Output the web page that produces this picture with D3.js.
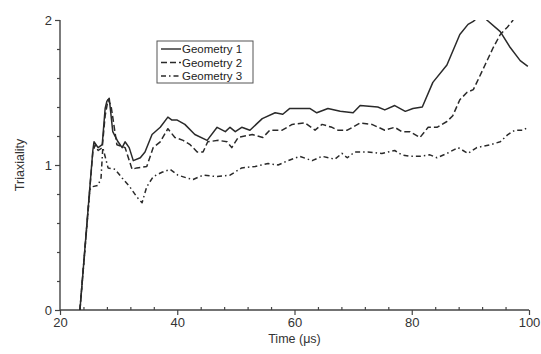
<!DOCTYPE html>
<html>
<head>
<meta charset="utf-8">
<script src="https://cdn.jsdelivr.net/npm/d3@7"></script>
<style>
  body { margin: 0; background: #fff; }
  svg { font-family: "Liberation Sans", Arial, sans-serif; }
</style>
</head>
<body>
<svg id="chart" width="541" height="354"></svg>
<script>
// values
const time1 = [23.4, 25.6, 25.8, 26.5, 27.2, 27.7, 28.0, 28.4, 29.0, 29.9, 30.6, 31.1, 31.8, 32.5, 33.7, 34.5, 35.7, 37.1, 38.4, 39.1, 40.0, 41.3, 43.0, 45.1, 46.8, 48.2, 49.0, 49.9, 51.0, 52.4, 54.5, 56.7, 58.0, 59.2, 60.9, 62.6, 63.8, 65.7, 67.8, 70.0, 71.2, 74.2, 75.4, 77.1, 78.9, 80.2, 81.8, 83.6, 86.0, 88.2, 89.6, 90.5, 91.8, 92.8, 95.1, 96.8, 98.5, 99.8];
const geo1 = [0, 1.10, 1.16, 1.12, 1.14, 1.39, 1.44, 1.46, 1.23, 1.16, 1.12, 1.16, 1.12, 1.03, 1.05, 1.09, 1.21, 1.26, 1.33, 1.31, 1.31, 1.28, 1.21, 1.17, 1.26, 1.23, 1.26, 1.23, 1.26, 1.24, 1.32, 1.36, 1.35, 1.39, 1.39, 1.39, 1.36, 1.39, 1.37, 1.36, 1.41, 1.40, 1.38, 1.41, 1.37, 1.39, 1.40, 1.57, 1.69, 1.90, 1.97, 1.99, 2.04, 2.0, 1.92, 1.81, 1.72, 1.68];

const time2 = [23.4, 25.6, 26.0, 26.5, 27.2, 27.7, 28.2, 28.7, 29.7, 31.1, 32.3, 33.1, 34.8, 35.9, 37.1, 38.4, 39.6, 41.0, 42.2, 43.4, 44.4, 45.2, 47.0, 48.5, 49.3, 50.4, 52.8, 54.6, 55.8, 57.9, 59.6, 61.8, 63.5, 64.7, 66.4, 67.4, 69.0, 71.2, 73.2, 75.4, 77.1, 78.3, 79.7, 81.4, 82.8, 84.3, 86.0, 87.0, 88.2, 89.4, 90.5, 91.1, 92.5, 93.9, 95.1, 96.3, 97.3];
const geo2 = [0, 1.09, 1.14, 1.10, 1.12, 1.34, 1.45, 1.41, 1.14, 1.12, 0.97, 0.98, 0.99, 1.12, 1.16, 1.25, 1.19, 1.17, 1.14, 1.09, 1.09, 1.16, 1.17, 1.16, 1.12, 1.19, 1.21, 1.19, 1.24, 1.24, 1.28, 1.29, 1.24, 1.28, 1.26, 1.24, 1.24, 1.29, 1.28, 1.24, 1.26, 1.23, 1.23, 1.19, 1.26, 1.26, 1.30, 1.34, 1.45, 1.50, 1.52, 1.57, 1.69, 1.81, 1.90, 1.95, 2.0];

const time3 = [23.4, 25.1, 25.5, 26.5, 27.0, 27.3, 28.2, 29.4, 30.6, 31.9, 33.1, 34.0, 34.8, 35.9, 37.4, 38.8, 40.1, 41.7, 42.7, 44.4, 46.8, 49.0, 51.0, 53.3, 55.5, 57.2, 58.9, 60.9, 63.0, 64.7, 66.9, 68.1, 69.0, 70.3, 72.5, 74.9, 77.1, 78.3, 79.7, 81.4, 83.1, 84.3, 86.0, 87.9, 89.6, 91.1, 93.4, 95.1, 96.4, 97.6, 99.0, 99.8];
const geo3 = [0, 0.83, 0.85, 0.86, 0.91, 1.12, 0.98, 0.97, 0.91, 0.85, 0.78, 0.74, 0.85, 0.92, 0.95, 0.97, 0.93, 0.91, 0.90, 0.93, 0.92, 0.93, 0.98, 0.99, 1.01, 1.00, 1.03, 1.06, 1.03, 1.06, 1.04, 1.08, 1.05, 1.09, 1.09, 1.08, 1.10, 1.07, 1.06, 1.06, 1.07, 1.05, 1.08, 1.12, 1.08, 1.12, 1.14, 1.16, 1.21, 1.24, 1.24, 1.26];

const seriesNames = ["Geometry 1", "Geometry 2", "Geometry 3"];
const xTicks = [20, 40, 60, 80, 100];
const yTicks = [0, 1, 2];

const series = [
  { name: seriesNames[0], t: time1, v: geo1, dash: null },
  { name: seriesNames[1], t: time2, v: geo2, dash: "6,3" },
  { name: seriesNames[2], t: time3, v: geo3, dash: "5,3,1.5,3" }
];

const svg = d3.select("#chart");
const margin = { top: 20, right: 12, bottom: 44, left: 60 };
const width = 541 - margin.left - margin.right;
const height = 354 - margin.top - margin.bottom;

const x = d3.scaleLinear().domain([20, 100]).range([0, width]);
const y = d3.scaleLinear().domain([0, 2]).range([height, 0]);

const g = svg.append("g").attr("transform", `translate(${margin.left},${margin.top})`);

svg.append("defs").append("clipPath").attr("id", "clip")
  .append("rect").attr("x", 0).attr("y", 0).attr("width", width).attr("height", height);

const axisColor = "#444";

// x axis: majors outside, minors inside
const gx = g.append("g").attr("transform", `translate(0,${height})`)
  .call(d3.axisBottom(x).tickValues(xTicks).tickSize(5).tickPadding(3).tickFormat(d3.format("d")));
g.append("g").attr("transform", `translate(0,${height})`)
  .call(d3.axisTop(x).tickValues(d3.range(20, 101, 4).filter(d => d % 20 !== 0)).tickSize(3).tickFormat(""))
  .call(a => a.select(".domain").remove());

const gy = g.append("g")
  .call(d3.axisLeft(y).tickValues(yTicks).tickSize(5).tickPadding(3).tickFormat(d3.format("d")));
g.append("g")
  .call(d3.axisLeft(y).tickValues(d3.range(0, 2.01, 0.2).filter(d => Math.abs(d - Math.round(d)) > 0.01)).tickSize(3).tickFormat(""))
  .call(a => a.select(".domain").remove());

g.selectAll(".domain").attr("stroke", axisColor).attr("stroke-width", 1.4);
g.selectAll(".tick line").attr("stroke", axisColor).attr("stroke-width", 1.2);
g.selectAll(".tick text").attr("fill", "#333").attr("font-size", "13px");
gx.select(".domain").attr("d", `M0,0H${width}`);
gy.select(".domain").attr("d", `M0,${height}V0`);

// axis titles
svg.append("text")
  .attr("x", margin.left + x(60)).attr("y", 343)
  .attr("text-anchor", "middle").attr("font-size", "12.5px").attr("fill", "#333")
  .text("Time (μs)");
svg.append("text")
  .attr("transform", `translate(24,${margin.top + y(1)}) rotate(-90)`)
  .attr("text-anchor", "middle").attr("font-size", "12.5px").attr("fill", "#333")
  .text("Triaxiality");

// curves
const line = d3.line().x(d => x(d[0])).y(d => y(d[1]));
const plot = g.append("g").attr("clip-path", "url(#clip)");
series.forEach(s => {
  plot.append("path")
    .datum(s.t.map((t, i) => [t, s.v[i]]))
    .attr("fill", "none")
    .attr("stroke", "#2a2a2a")
    .attr("stroke-width", 1.5)
    .attr("stroke-linejoin", "round")
    .attr("stroke-dasharray", s.dash)
    .attr("d", line);
});

// legend
const legend = svg.append("g").attr("transform", "translate(157,41)");
legend.append("rect").attr("width", 96).attr("height", 42)
  .attr("fill", "#fff").attr("stroke", "#555").attr("stroke-width", 1);
series.forEach((s, i) => {
  const ly = 8 + i * 13.5;
  legend.append("line").attr("x1", 4).attr("x2", 24).attr("y1", ly).attr("y2", ly)
    .attr("stroke", "#2a2a2a").attr("stroke-width", 1.4).attr("stroke-dasharray", s.dash);
  legend.append("text").attr("x", 25).attr("y", ly + 4)
    .attr("font-size", "11.5px").attr("fill", "#222").text(s.name);
});
</script>
</body>
</html>
